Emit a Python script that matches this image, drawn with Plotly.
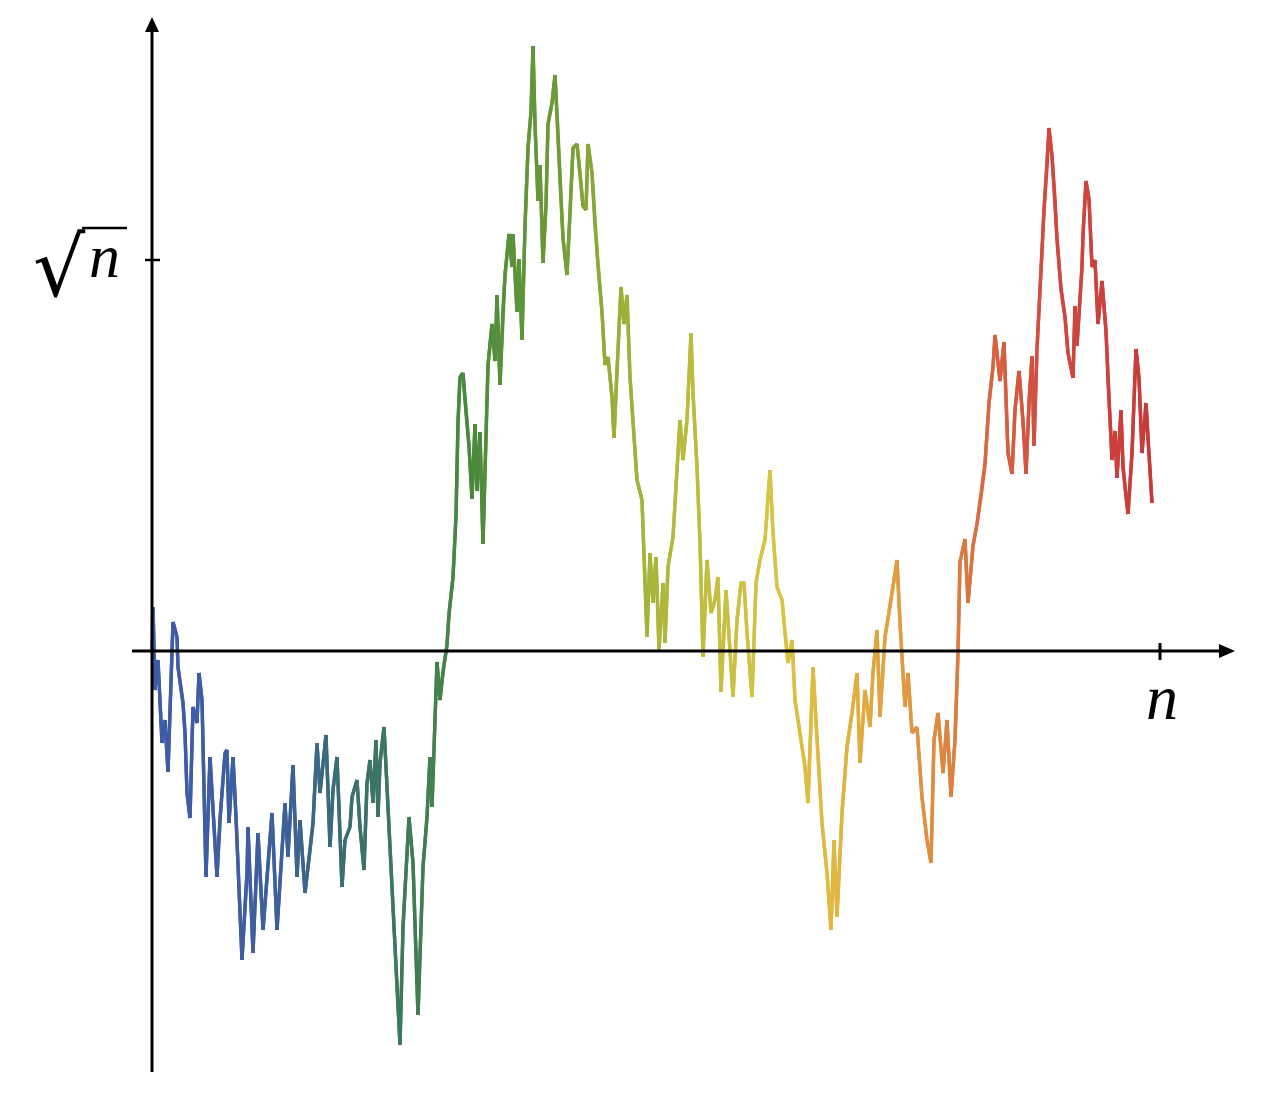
import plotly.graph_objects as go

# Random walk: step index and walk value
# (x axis: n at step 1008, y axis: sqrt(n) tick at value 391)
steps = [0, 1, 3, 6, 10, 13, 16, 21, 25, 26, 31, 33, 35, 38, 41, 45, 47, 50, 54, 58, 61, 65, 68, 73, 75, 77, 81, 84,
         90, 95, 96, 101, 106, 111, 120, 125, 133, 136, 141, 145, 148, 153, 158, 161, 165, 168, 174,
         178, 181, 185, 190, 193, 198, 200, 205, 208, 212, 215, 218, 221, 224, 226, 228, 232, 235, 238, 243, 248,
         251, 257, 261, 266, 271, 275, 278, 280, 285, 288,
         291, 295, 297, 301, 304, 306, 308, 311, 313, 317, 320, 323, 325, 328, 331, 336, 340, 343, 345, 348, 351,
         353, 357, 360, 361, 365, 367, 370, 373, 376, 379, 381, 383, 386, 388, 391, 394, 396, 400, 403, 405, 408,
         411, 415, 418, 421, 425, 428, 431, 434, 436, 440, 443, 446, 450, 453, 456, 460, 462, 465, 469, 472, 475,
         478, 481, 485,
         490, 493, 495, 498, 501, 504, 507, 511, 513, 516, 521, 528, 531, 535, 539, 541, 545, 548, 551, 555, 559,
         563, 566, 569, 574, 578, 581, 585, 589, 592, 595, 600, 604, 608, 613, 618, 621, 625, 630, 633, 636,
         640, 643, 648, 653, 656, 661, 665, 670, 675, 679, 682, 685, 690, 695, 700, 705, 708, 713, 718, 721, 725,
         728, 733, 738, 745, 748, 753, 756, 760, 765, 770, 775, 779, 782, 786, 791, 795, 799, 803, 806,
         808, 813, 816, 821, 825, 830, 833, 837, 841, 843, 848, 852, 856, 860, 863, 867, 871, 874, 877, 880, 882,
         885, 889, 892, 895, 897, 900, 903, 905, 909, 913, 916, 921, 923, 925, 930, 931, 934, 937, 940, 943, 946,
         950, 954, 956, 960, 963, 965, 969, 971, 974, 976, 980, 984, 987, 990, 994, 996, 1000]
walk = [0, 44, -39, -9, -92, -69, -121, 29, 14, -16, -52, -82, -142, -167, -56, -72, -22, -49, -226, -106, -159,
        -226, -169, -102, -99, -172, -106, -166, -309, -222, -176, -302, -182, -279, -162, -279, -152, -206, -114,
        -226, -169, -242, -199, -172, -92, -142, -84,
        -196, -139, -106, -236, -189, -176, -146, -129, -176, -219, -132, -109, -152, -89, -166, -112, -76, -136,
        -196, -296, -394, -276, -166, -212, -364, -216, -166, -106, -156, -11, -49,
        -21, 6, 37, 74, 135, 229, 274, 278, 250, 205, 152, 227, 160, 219, 107, 286, 327, 290, 356, 266, 343,
        376, 417, 384, 417, 339, 392, 311, 425, 503, 539, 605, 527, 450, 486, 388, 446, 527, 548, 576, 539, 470,
        413, 376, 437, 503, 507, 478, 445, 441, 507, 478, 425, 384, 339, 286, 294, 254, 213, 282, 364, 327, 356,
        274, 229, 171,
        151, 68, 14, 98, 48, 94, 1, 68, 8, 84, 114, 231, 191, 231, 318, 258, 184, 108, -6, 91, 38,
        51, 74, -41, 61, 1, -46, 31, 68, 68, 18, -46, 68, 91, 111, 181, 118, 64, 51, 18, -12,
        11, -49, -82, -116, -152, -16, -89, -172, -222, -279, -189, -266, -162, -96, -62, -22, -112, -39, -76,
        -22, 21, -66, 14, 44, 91, 28, -56, -22, -82, -76, -146, -189, -212, -89, -62, -122, -69, -146, -89, -2,
        89, 112, 48, 105, 127, 162, 187, 248, 284, 316, 270, 309, 198, 177, 241, 280, 230, 177, 248, 295, 205,
        302, 380, 441, 484, 523, 495, 452, 412, 362, 334, 298, 273, 345, 305, 384, 416, 470, 452, 384, 391, 327,
        370, 320, 270, 191, 220, 173, 241, 184, 155, 137, 198, 302, 273, 198, 248, 212, 148]

N_TICK = 1008
SQRT_N_TICK = 391
x_label = "n"
y_label_root = "√"
y_label_arg = "n"

# colour ramp along the walk
stop_pos = [0, 130, 180, 250, 320, 400, 460, 540, 620, 680, 740, 790, 830, 900, 1000]
stop_col = ["#3f5ca8", "#3e5f9c", "#3a6b78", "#3e7a5a", "#4a8a3c", "#6a9a38", "#96ae38", "#bcbc3e",
            "#d8c444", "#e0b840", "#e0a040", "#de8840", "#d86a40", "#d04840", "#c83a3a"]


def hex2rgb(h):
    return tuple(int(h[i:i + 2], 16) for i in (1, 3, 5))


def colour_at(p):
    for i in range(len(stop_pos) - 1):
        if stop_pos[i] <= p <= stop_pos[i + 1]:
            t = (p - stop_pos[i]) / (stop_pos[i + 1] - stop_pos[i])
            a, b = hex2rgb(stop_col[i]), hex2rgb(stop_col[i + 1])
            return "rgb(%d,%d,%d)" % tuple(round(a[k] + (b[k] - a[k]) * t) for k in range(3))
    return stop_col[-1]


fig = go.Figure()
for i in range(len(steps) - 1):
    j = min(i + 3, len(steps))
    fig.add_trace(go.Scatter(
        x=steps[i:j], y=walk[i:j], mode="lines",
        line=dict(color=colour_at((steps[i] + steps[i + 1]) / 2), width=3.4),
        hoverinfo="skip", showlegend=False))

# axes (drawn as shapes) with arrow heads and ticks
ax = dict(color="black", width=3)
shapes = [
    dict(type="line", x0=0, x1=0, y0=-421, y1=622, line=ax),
    dict(type="line", x0=-20, x1=1070, y0=0, y1=0, line=ax),
    dict(type="path", path="M -7,619 L 7,619 L 0,634 Z", fillcolor="black", line=dict(width=0)),
    dict(type="path", path="M 1067,-7 L 1067,7 L 1083,0 Z", fillcolor="black", line=dict(width=0)),
    dict(type="line", x0=-7, x1=8, y0=SQRT_N_TICK, y1=SQRT_N_TICK, line=dict(color="black", width=2.5)),
    dict(type="line", x0=N_TICK, x1=N_TICK, y0=8, y1=-9, line=dict(color="black", width=3)),
    # vinculum of the square root
    dict(type="line", x0=-70, x1=-25, y0=423, y1=423, line=dict(color="black", width=2.5)),
]

annotations = [
    dict(x=N_TICK + 2, y=-46, text="<i>" + x_label + "</i>", showarrow=False,
         font=dict(family="Liberation Serif", size=64, color="black"), xanchor="center", yanchor="middle"),
    dict(x=-93, y=384, text=y_label_root, showarrow=False,
         font=dict(family="DejaVu Serif", size=82, color="black"), xanchor="center", yanchor="middle"),
    dict(x=-48, y=395, text="<i>" + y_label_arg + "</i>", showarrow=False,
         font=dict(family="Liberation Serif", size=62, color="black"), xanchor="center", yanchor="middle"),
]

fig.update_layout(
    width=1260, height=1086,
    margin=dict(l=0, r=0, t=0, b=0),
    paper_bgcolor="white", plot_bgcolor="white",
    xaxis=dict(range=[-144, 1116], visible=False, fixedrange=True),
    yaxis=dict(range=[-443, 643], visible=False, fixedrange=True),
    shapes=shapes, annotations=annotations,
)

fig.write_html("out.html")
